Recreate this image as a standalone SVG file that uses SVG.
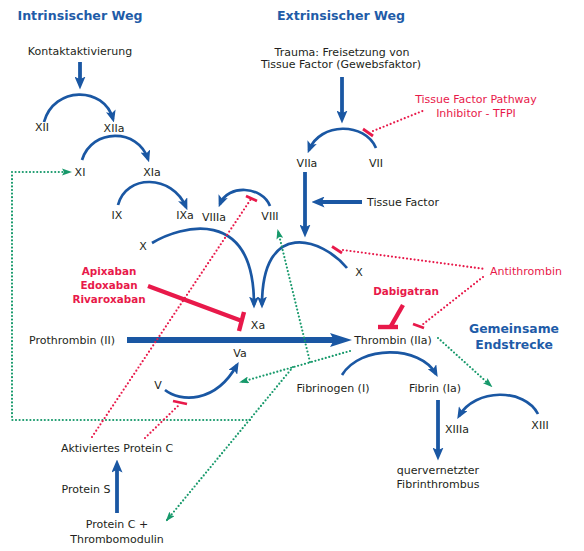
<svg xmlns="http://www.w3.org/2000/svg" width="584" height="551" viewBox="0 0 584 551">
<style>
text{font-family:"DejaVu Sans","Liberation Sans",sans-serif;font-size:11px;fill:#231f20;text-anchor:middle}
.title{font-weight:bold;font-size:12.6px;fill:#1f5ca8}
.rb{font-weight:bold;font-size:10.4px;fill:#e8194a}
.rr{fill:#e8194a}
.end{font-weight:bold;font-size:12.4px;fill:#1f5ca8}
.arc{fill:none;stroke:#1a57a3;stroke-width:2.7;marker-end:url(#ab)}
.thick{fill:none;stroke:#1a57a3;stroke-width:3.8;marker-end:url(#abt)}
.big{fill:none;stroke:#1a57a3;stroke-width:6;marker-end:url(#abig)}
.gd{fill:none;stroke:#17996b;stroke-width:2.2;stroke-dasharray:0 3.6;stroke-linecap:round}
.rd{fill:none;stroke:#e8194a;stroke-width:2.2;stroke-dasharray:0 3.8;stroke-linecap:round}
.bar{fill:none;stroke:#e8194a;stroke-width:2.8}
.inh{fill:none;stroke:#e8194a;stroke-width:4.4}
</style>
<defs>
<marker id="ab" markerUnits="userSpaceOnUse" markerWidth="12" markerHeight="10" refX="8.5" refY="5" orient="auto"><path d="M0,0 L12,5 L0,10 L2.8,5 z" fill="#1a57a3"/></marker>
<marker id="abt" markerUnits="userSpaceOnUse" markerWidth="13" markerHeight="11" refX="7.5" refY="5.5" orient="auto"><path d="M0,0 L13,5.5 L0,11 L2.8,5.5 z" fill="#1a57a3"/></marker>
<marker id="abig" markerUnits="userSpaceOnUse" markerWidth="22" markerHeight="14" refX="10" refY="7" orient="auto"><path d="M0,0 L22,7 L0,14 L4,7 z" fill="#1a57a3"/></marker>
<marker id="ag" markerUnits="userSpaceOnUse" markerWidth="10" markerHeight="7" refX="8" refY="3.5" orient="auto"><path d="M0,0 L10,3.5 L0,7 L2,3.5 z" fill="#17996b"/></marker>
</defs>
<rect width="584" height="551" fill="#ffffff"/>

<g id="connectors">
<path class="arc" d="M44,122 C54,86 104,86 113,119"/>
<path class="arc" d="M82,160 C92,128 138,128 148,159"/>
<path class="arc" d="M118,205 C126,174 172,174 186,207"/>
<path class="arc" d="M270,206 C262,186 228,184 220,204"/>
<path class="arc" d="M152,243 C180,226 254,205 254,305"/>
<path class="arc" d="M347,268 C322,238 262,218 262,305"/>
<path class="arc" d="M376,148 C365,122 320,122 309,150"/>
<path class="arc" d="M165,390 C180,402 215,404 237,365"/>
<path class="arc" d="M342,375 C360,345 420,345 436,374"/>
<path class="arc" d="M538,414 C525,388 475,388 459,416"/>
<path class="thick" d="M80,62 L80,84"/>
<path class="thick" d="M342,77 L342,118"/>
<path class="thick" d="M305,172 L305,232"/>
<path class="thick" d="M362,202 L317,202"/>
<path class="thick" d="M438,400 L438,455"/>
<path class="thick" d="M117,513 L117,465"/>
<path class="big" d="M127,340 L340,340"/>
<path class="gd" d="M250,420 L12,420 L12,172 L64,172"/>
<path fill="#17996b" d="M62,168.5 L72,172 L62,175.5 L64,172 z"/>
<path class="gd" d="M350,351 L241,382" marker-end="url(#ag)"/>
<path class="gd" d="M310,362 L278,231" marker-end="url(#ag)"/>
<path class="gd" d="M293,367 L167,520" marker-end="url(#ag)"/>
<path class="gd" d="M438,338 L491,386" marker-end="url(#ag)"/>
<path class="rd" d="M373,131 L425,110"/>
<path class="rd" d="M343,250 L485,269"/>
<path class="rd" d="M483,277 L422,325"/>
<path class="rd" d="M92,437 L251,199"/>
<path class="rd" d="M145,438 L180,404"/>
<path class="bar" d="M363,129 L373,136"/>
<path class="bar" d="M332,246.5 L342,253"/>
<path class="bar" d="M246,196 L257,201"/>
<path class="bar" d="M173,401 L187,404"/>
<path class="bar" d="M413,324 L424,328"/>
<path class="inh" d="M148,286 L242,321"/>
<path class="inh" d="M244,312 L239,331"/>
<path class="inh" d="M403,305 L391,326"/>
<path class="inh" d="M378,327 L398,327"/>
</g>

<g id="title-intrinsic"><text class="title" x="80" y="20">Intrinsischer Weg</text></g>
<g id="title-extrinsic"><text class="title" x="341" y="20">Extrinsischer Weg</text></g>
<g id="kontakt"><text x="80" y="55">Kontaktaktivierung</text></g>
<g id="trauma"><text x="342" y="56">Trauma: Freisetzung von</text><text x="341" y="68">Tissue Factor (Gewebsfaktor)</text></g>
<g id="tfpi"><text class="rr" x="476" y="103">Tissue Factor Pathway</text><text class="rr" x="476" y="117">Inhibitor - TFPI</text></g>
<g id="XII"><text x="42" y="131">XII</text></g>
<g id="XIIa"><text x="114" y="132">XIIa</text></g>
<g id="XI"><text x="80" y="176">XI</text></g>
<g id="XIa"><text x="152" y="176">XIa</text></g>
<g id="VIIa"><text x="307" y="167">VIIa</text></g>
<g id="VII"><text x="376" y="167">VII</text></g>
<g id="tissuefactor"><text x="403" y="206">Tissue Factor</text></g>
<g id="IX"><text x="117" y="219">IX</text></g>
<g id="IXa"><text x="185" y="219">IXa</text></g>
<g id="VIIIa"><text x="214" y="221">VIIIa</text></g>
<g id="VIII"><text x="270" y="220">VIII</text></g>
<g id="X-intr"><text x="143" y="250">X</text></g>
<g id="X-extr"><text x="359" y="276">X</text></g>
<g id="antithrombin"><text class="rr" x="526" y="275">Antithrombin</text></g>
<g id="xa-inhibitors"><text class="rb" x="109" y="275">Apixaban</text><text class="rb" x="109" y="289">Edoxaban</text><text class="rb" x="109" y="303">Rivaroxaban</text></g>
<g id="dabigatran"><text class="rb" x="406" y="295">Dabigatran</text></g>
<g id="Xa"><text x="258" y="329">Xa</text></g>
<g id="endstrecke"><text class="end" x="514" y="333">Gemeinsame</text><text class="end" x="514" y="349">Endstrecke</text></g>
<g id="prothrombin"><text x="72" y="344">Prothrombin (II)</text></g>
<g id="thrombin"><text x="393" y="344">Thrombin (IIa)</text></g>
<g id="Va"><text x="240" y="357">Va</text></g>
<g id="V"><text x="158" y="389">V</text></g>
<g id="fibrinogen"><text x="333" y="392">Fibrinogen (I)</text></g>
<g id="fibrin"><text x="435" y="392">Fibrin (Ia)</text></g>
<g id="XIIIa"><text x="457" y="433">XIIIa</text></g>
<g id="XIII"><text x="540" y="429">XIII</text></g>
<g id="thrombus"><text x="438" y="474">quervernetzter</text><text x="438" y="488">Fibrinthrombus</text></g>
<g id="apc"><text x="117" y="452">Aktiviertes Protein C</text></g>
<g id="proteinS"><text x="86" y="493">Protein S</text></g>
<g id="proteinC"><text x="117" y="528">Protein C +</text><text x="117" y="543">Thrombomodulin</text></g>
</svg>
